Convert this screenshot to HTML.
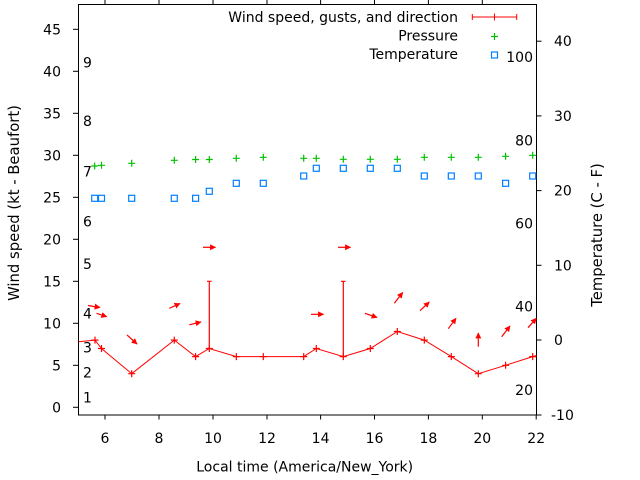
<!DOCTYPE html>
<html><head><meta charset="utf-8"><style>
html,body{margin:0;padding:0;background:#fff;}
svg{display:block;}
text{font-family:"DejaVu Sans","Liberation Sans",sans-serif;font-size:14px;fill:#000;}
</style></head><body>
<svg width="640" height="480" viewBox="0 0 640 480" xmlns="http://www.w3.org/2000/svg">
<defs>
<marker id="ah" viewBox="0 0 10 10" refX="9" refY="5" markerWidth="6" markerHeight="6" markerUnits="userSpaceOnUse" orient="auto">
<path d="M0,0 L10,5 L0,10 z" fill="#f00"/>
</marker>
</defs>
<rect width="640" height="480" fill="#fff"/>

<!-- border -->
<rect x="78.5" y="4.5" width="458" height="410.5" fill="none" stroke="#000" stroke-width="1"/>

<!-- left ticks -->
<g stroke="#000" stroke-width="1">
<line x1="73" y1="407.3" x2="78.5" y2="407.3"/>
<line x1="73" y1="365.3" x2="78.5" y2="365.3"/>
<line x1="73" y1="323.3" x2="78.5" y2="323.3"/>
<line x1="73" y1="281.3" x2="78.5" y2="281.3"/>
<line x1="73" y1="239.3" x2="78.5" y2="239.3"/>
<line x1="73" y1="197.3" x2="78.5" y2="197.3"/>
<line x1="73" y1="155.3" x2="78.5" y2="155.3"/>
<line x1="73" y1="113.3" x2="78.5" y2="113.3"/>
<line x1="73" y1="71.3" x2="78.5" y2="71.3"/>
<line x1="73" y1="29.3" x2="78.5" y2="29.3"/>
<!-- right ticks -->
<line x1="536.5" y1="415" x2="541.5" y2="415"/>
<line x1="536.5" y1="340" x2="541.5" y2="340"/>
<line x1="536.5" y1="265.3" x2="541.5" y2="265.3"/>
<line x1="536.5" y1="190.6" x2="541.5" y2="190.6"/>
<line x1="536.5" y1="115.9" x2="541.5" y2="115.9"/>
<line x1="536.5" y1="41.2" x2="541.5" y2="41.2"/>
<!-- bottom ticks -->
<line x1="105" y1="415" x2="105" y2="419.5"/>
<line x1="159" y1="415" x2="159" y2="419.5"/>
<line x1="213" y1="415" x2="213" y2="419.5"/>
<line x1="267" y1="415" x2="267" y2="419.5"/>
<line x1="320.6" y1="415" x2="320.6" y2="419.5"/>
<line x1="374.5" y1="415" x2="374.5" y2="419.5"/>
<line x1="428.4" y1="415" x2="428.4" y2="419.5"/>
<line x1="482.3" y1="415" x2="482.3" y2="419.5"/>
<line x1="536.2" y1="415" x2="536.2" y2="419.5"/>
<!-- top ticks -->
<line x1="105" y1="0" x2="105" y2="4.5"/>
<line x1="159" y1="0" x2="159" y2="4.5"/>
<line x1="213" y1="0" x2="213" y2="4.5"/>
<line x1="267" y1="0" x2="267" y2="4.5"/>
<line x1="320.6" y1="0" x2="320.6" y2="4.5"/>
<line x1="374.5" y1="0" x2="374.5" y2="4.5"/>
<line x1="428.4" y1="0" x2="428.4" y2="4.5"/>
<line x1="482.3" y1="0" x2="482.3" y2="4.5"/>
</g>

<!-- left tick labels -->
<g text-anchor="end">
<text x="61" y="412.3">0</text>
<text x="61" y="370.3">5</text>
<text x="61" y="328.3">10</text>
<text x="61" y="286.3">15</text>
<text x="61" y="244.3">20</text>
<text x="61" y="202.3">25</text>
<text x="61" y="160.3">30</text>
<text x="61" y="118.3">35</text>
<text x="61" y="76.3">40</text>
<text x="61" y="34.3">45</text>
</g>
<!-- right tick labels -->
<g text-anchor="start">
<text x="551" y="420">-10</text>
<text x="554" y="345">0</text>
<text x="554" y="270.3">10</text>
<text x="554" y="195.6">20</text>
<text x="554" y="120.9">30</text>
<text x="554" y="46.2">40</text>
</g>
<!-- bottom tick labels -->
<g text-anchor="middle">
<text x="105" y="443">6</text>
<text x="159" y="443">8</text>
<text x="213" y="443">10</text>
<text x="267" y="443">12</text>
<text x="320.6" y="443">14</text>
<text x="374.5" y="443">16</text>
<text x="428.4" y="443">18</text>
<text x="482.3" y="443">20</text>
<text x="536.2" y="443">22</text>
</g>

<!-- Beaufort labels -->
<g text-anchor="start">
<text x="83" y="402.5">1</text>
<text x="83" y="377.7">2</text>
<text x="83" y="352.3">3</text>
<text x="83" y="318.5">4</text>
<text x="83" y="269">5</text>
<text x="83" y="226.5">6</text>
<text x="83" y="176.5">7</text>
<text x="83" y="126">8</text>
<text x="83" y="67.5">9</text>
</g>
<!-- Fahrenheit labels -->
<g text-anchor="end">
<text x="533" y="395">20</text>
<text x="533" y="311.5">40</text>
<text x="533" y="228.3">60</text>
<text x="533" y="145.5">80</text>
<text x="533" y="62">100</text>
</g>

<!-- axis labels -->
<text x="304.7" y="471.5" text-anchor="middle">Local time (America/New_York)</text>
<text transform="translate(19,203) rotate(-90)" text-anchor="middle" style="font-size:14.8px">Wind speed (kt - Beaufort)</text>
<text transform="translate(602,235) rotate(-90)" text-anchor="middle" style="font-size:14.8px">Temperature (C - F)</text>

<!-- legend -->
<g text-anchor="end" style="font-size:14.2px">
<text x="458" y="22">Wind speed, gusts, and direction</text>
<text x="458" y="40.5">Pressure</text>
<text x="458" y="59">Temperature</text>
</g>
<g stroke="#f00" stroke-width="1" fill="none">
<line x1="472.3" y1="17" x2="516.7" y2="17"/>
<line x1="472.3" y1="14" x2="472.3" y2="20"/>
<line x1="516.7" y1="14" x2="516.7" y2="20"/>
<line x1="494.5" y1="13.5" x2="494.5" y2="20.5"/>
</g>
<g stroke="#00c000" stroke-width="1.2">
<line x1="491" y1="36.5" x2="498" y2="36.5"/>
<line x1="494.5" y1="33" x2="494.5" y2="40"/>
</g>
<rect x="491.5" y="52" width="6" height="6" fill="none" stroke="#0080ff" stroke-width="1.2"/>

<!-- pressure -->
<g stroke="#00c000" stroke-width="1.2" fill="none">
<path d="M91.2,166h7M94.7,162.5v7
M98,165.3h7M101.5,161.8v7
M128.2,163.3h7M131.7,159.8v7
M170.8,160.3h7M174.3,156.8v7
M192.1,159.5h7M195.6,156v7
M205.8,159.5h7M209.3,156v7
M232.8,158.3h7M236.3,154.8v7
M259.8,157.3h7M263.3,153.8v7
M300.2,158.3h7M303.7,154.8v7
M312.8,158.3h7M316.3,154.8v7
M339.8,159.3h7M343.3,155.8v7
M366.8,159.3h7M370.3,155.8v7
M393.8,159.3h7M397.3,155.8v7
M420.8,157.3h7M424.3,153.8v7
M447.8,157.3h7M451.3,153.8v7
M474.8,157.3h7M478.3,153.8v7
M502.1,156.3h7M505.6,152.8v7
M529.2,155.3h7M532.7,151.8v7"/>
</g>

<!-- temperature -->
<g stroke="#0080ff" stroke-width="1.2" fill="none">
<rect x="91.7" y="195.3" width="6" height="6"/>
<rect x="98.5" y="195.3" width="6" height="6"/>
<rect x="128.7" y="195.3" width="6" height="6"/>
<rect x="171.3" y="195.3" width="6" height="6"/>
<rect x="192.6" y="195.3" width="6" height="6"/>
<rect x="206.3" y="188.3" width="6" height="6"/>
<rect x="233.3" y="180.3" width="6" height="6"/>
<rect x="260.3" y="180.3" width="6" height="6"/>
<rect x="300.7" y="173" width="6" height="6"/>
<rect x="313.3" y="165.3" width="6" height="6"/>
<rect x="340.3" y="165.3" width="6" height="6"/>
<rect x="367.3" y="165.3" width="6" height="6"/>
<rect x="394.3" y="165.3" width="6" height="6"/>
<rect x="421.3" y="173" width="6" height="6"/>
<rect x="448.3" y="173" width="6" height="6"/>
<rect x="475.3" y="173" width="6" height="6"/>
<rect x="502.6" y="180.3" width="6" height="6"/>
<rect x="529.7" y="173" width="6" height="6"/>
</g>

<!-- wind line -->
<polyline fill="none" stroke="#f00" stroke-width="1" points="78.5,341.7 95,340.1 101.5,348.5 131.7,373.7 174.3,340.1 195.6,356.6 209.3,348.5 236.3,356.6 263.3,356.6 303.7,356.6 316.3,348.5 343.3,356.6 370.3,348.5 397.3,331.5 424.3,340.1 451.3,356.6 478.3,373.7 505.6,365.3 532.7,356.6 536.5,355.5"/>
<!-- wind markers -->
<g stroke="#f00" stroke-width="1.2" fill="none">
<path d="M91.5,340.1h7M95,336.6v7
M98,348.5h7M101.5,345v7
M128.2,373.7h7M131.7,370.2v7
M170.8,340.1h7M174.3,336.6v7
M192.1,356.6h7M195.6,353.1v7
M205.8,348.5h7M209.3,345v7
M232.8,356.6h7M236.3,353.1v7
M259.8,356.6h7M263.3,353.1v7
M300.2,356.6h7M303.7,353.1v7
M312.8,348.5h7M316.3,345v7
M339.8,356.6h7M343.3,353.1v7
M366.8,348.5h7M370.3,345v7
M393.8,331.5h7M397.3,328v7
M420.8,340.1h7M424.3,336.6v7
M447.8,356.6h7M451.3,353.1v7
M474.8,373.7h7M478.3,370.2v7
M502.1,365.3h7M505.6,361.8v7
M529.2,356.6h7M532.7,353.1v7"/>
</g>
<!-- gusts -->
<g stroke="#f00" stroke-width="1.2" fill="none">
<path d="M209.3,348.5V281.3M207,281.3h4.6M343.3,356.6V281.3M341,281.3h4.6"/>
</g>
<!-- direction arrows -->
<g stroke="#f00" stroke-width="1.2" fill="none">
<line x1="88" y1="305.5" x2="100" y2="307.5" marker-end="url(#ah)"/>
<line x1="96.5" y1="313.3" x2="106.7" y2="316.7" marker-end="url(#ah)"/>
<line x1="127" y1="335" x2="137" y2="344" marker-end="url(#ah)"/>
<line x1="169.3" y1="308.3" x2="180" y2="303.5" marker-end="url(#ah)"/>
<line x1="189.3" y1="324.8" x2="201" y2="322" marker-end="url(#ah)"/>
<line x1="203" y1="247.3" x2="215.5" y2="247.3" marker-end="url(#ah)"/>
<line x1="311" y1="314.3" x2="323.5" y2="314.3" marker-end="url(#ah)"/>
<line x1="338" y1="247.3" x2="350.5" y2="247.3" marker-end="url(#ah)"/>
<line x1="365" y1="313.3" x2="377" y2="317.5" marker-end="url(#ah)"/>
<line x1="394.3" y1="303.3" x2="402.7" y2="292.5" marker-end="url(#ah)"/>
<line x1="420" y1="310.7" x2="429.3" y2="302" marker-end="url(#ah)"/>
<line x1="448.3" y1="328.7" x2="456" y2="318.3" marker-end="url(#ah)"/>
<line x1="478.3" y1="346.7" x2="478.3" y2="333" marker-end="url(#ah)"/>
<line x1="501.7" y1="336.7" x2="510" y2="326" marker-end="url(#ah)"/>
<line x1="528" y1="327.7" x2="536.3" y2="318.3" marker-end="url(#ah)"/>
</g>
</svg>
</body></html>
